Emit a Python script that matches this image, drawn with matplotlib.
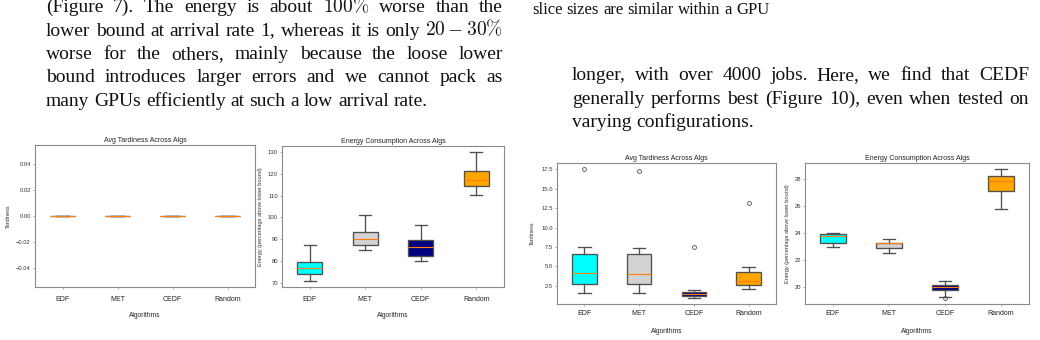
import matplotlib
matplotlib.use('Agg')
import matplotlib.pyplot as plt

# ---------------- data ----------------
algs = ['EDF', 'MET', 'CEDF', 'Random']
box_colors = ['cyan', 'lightgray', 'navy', 'orange']

# Figure 7 (left pair) - tardiness is zero for every algorithm
t7_whislo = [0.0, 0.0, 0.0, 0.0]
t7_q1 = [0.0, 0.0, 0.0, 0.0]
t7_med = [0.0, 0.0, 0.0, 0.0]
t7_q3 = [0.0, 0.0, 0.0, 0.0]
t7_whishi = [0.0, 0.0, 0.0, 0.0]
t7_fliers = [[], [], [], []]

e7_whislo = [71.0, 84.9, 80.0, 110.2]
e7_q1 = [74.2, 87.5, 82.5, 114.5]
e7_med = [76.9, 90.3, 86.2, 117.2]
e7_q3 = [79.7, 93.5, 89.8, 121.1]
e7_whishi = [87.1, 101.1, 96.5, 129.8]
e7_fliers = [[], [], [], []]

# Figure 10 (right pair)
t10_whislo = [1.55, 1.55, 0.99, 2.11]
t10_q1 = [2.76, 2.72, 1.20, 2.67]
t10_med = [4.10, 3.97, 1.46, 3.15]
t10_q3 = [6.65, 6.56, 1.76, 4.32]
t10_whishi = [7.56, 7.34, 1.98, 4.92]
t10_fliers = [[17.5], [17.3], [7.56], [13.2]]

e10_whislo = [22.96, 22.53, 19.30, 25.81]
e10_q1 = [23.28, 22.88, 19.80, 27.08]
e10_med = [23.78, 23.28, 19.98, 27.85]
e10_q3 = [23.93, 23.30, 20.17, 28.25]
e10_whishi = [24.02, 23.58, 20.47, 28.70]
e10_fliers = [[], [], [19.23], []]

left_lines = [
    "(Figure 7). The energy is about $100\\%$ worse than the",
    "lower bound at arrival rate 1, whereas it is only $20-30\\%$",
    "worse for the others, mainly because the loose lower",
    "bound introduces larger errors and we cannot pack as",
    "many GPUs efficiently at such a low arrival rate.",
]
caption_line = "slice sizes are similar within a GPU"
right_lines = [
    "longer, with over 4000 jobs. Here, we find that CEDF",
    "generally performs best (Figure 10), even when tested on",
    "varying configurations.",
]

title_tard = 'Avg Tardiness Across Algs'
title_energy = 'Energy Consumption Across Algs'
ylab_tard = 'Tardiness'
ylab_energy = 'Energy (percentage above lower bound)'
xlab = 'Algorithms'

# ---------------- layout ----------------
W, H = 1040, 340
plt.rcParams['mathtext.fontset'] = 'cm'
fig = plt.figure(figsize=(W / 100, H / 100), dpi=100)
fig.patch.set_facecolor('white')
renderer = fig.canvas.get_renderer()


def fx(x):
    return x / W


def fy(y):
    return 1 - y / H


SERIF = 'Liberation Serif'
SANS = 'Liberation Sans'


def put_line(text, x0, x1, base, size, justify=True):
    words = text.split()
    objs = [fig.text(0, fy(base), w, fontsize=size, family=SERIF,
                     va='baseline', ha='left', color='#111111') for w in words]
    widths = [t.get_window_extent(renderer).width for t in objs]
    if justify and len(words) > 1:
        gap = (x1 - x0 - sum(widths)) / (len(words) - 1)
    else:
        gap = 0.25 * size * 100 / 72
    x = x0
    for t, w in zip(objs, widths):
        t.set_x(fx(x))
        x += w + gap


BODY = 14
left_bases = [12, 35.5, 59, 82.5, 106]
for i, (ln, b) in enumerate(zip(left_lines, left_bases)):
    put_line(ln, 46, 503, b, BODY, justify=(i < len(left_lines) - 1))

put_line(caption_line, 532, 1000, 14.5, 12, justify=False)
right_bases = [80, 103.5, 127]
for i, (ln, b) in enumerate(zip(right_lines, right_bases)):
    put_line(ln, 572, 1029, b, BODY, justify=(i < len(right_lines) - 1))


def make_ax(l, r, t, b):
    return fig.add_axes([fx(l), fy(b), (r - l) / W, (b - t) / H])


EDGE = '#505050'


def draw(ax, lo, q1, med, q3, hi, fl, title, ylabel, ylab_off, xpad, xlabpad):
    stats = [dict(label=a, whislo=v0, q1=v1, med=v2, q3=v3, whishi=v4, fliers=f)
             for a, v0, v1, v2, v3, v4, f in zip(algs, lo, q1, med, q3, hi, fl)]
    bp = ax.bxp(stats, positions=[1, 2, 3, 4], widths=0.45, patch_artist=True,
                boxprops=dict(edgecolor=EDGE, linewidth=0.95),
                whiskerprops=dict(color=EDGE, linewidth=0.95),
                capprops=dict(color=EDGE, linewidth=0.95),
                medianprops=dict(color='#ff7f0e', linewidth=0.8),
                flierprops=dict(marker='o', markerfacecolor='none',
                                markeredgecolor=EDGE, markersize=2.8,
                                markeredgewidth=0.6))
    for p, c in zip(bp['boxes'], box_colors):
        p.set_facecolor(c)
    ax.set_title(title, fontsize=5.0, family=SANS, color='#222222', pad=2.5)
    ax.set_xlabel(xlab, fontsize=4.8, family=SANS, color='#222222', labelpad=xlabpad)
    ax.set_ylabel(ylabel, fontsize=4.0, family=SANS, color='#333333')
    ax.yaxis.set_label_coords(ylab_off, 0.5)
    for s in ax.spines.values():
        s.set_color('#8a8a8a')
        s.set_linewidth(0.8)
    ax.tick_params(axis='y', labelsize=4.2, length=1.5, width=0.5, pad=1.5,
                   colors='#8a8a8a', labelcolor='#333333')
    ax.tick_params(axis='x', labelsize=5.0, length=1.5, width=0.5, pad=xpad,
                   colors='#8a8a8a', labelcolor='#222222')
    for lab in ax.get_xticklabels() + ax.get_yticklabels():
        lab.set_family(SANS)


ax1 = make_ax(35, 255, 145, 287)
draw(ax1, t7_whislo, t7_q1, t7_med, t7_q3, t7_whishi, t7_fliers,
     title_tard, ylab_tard, -24 / 220, 4.8, 7.0)
ax2 = make_ax(282, 504, 146, 287)
draw(ax2, e7_whislo, e7_q1, e7_med, e7_q3, e7_whishi, e7_fliers,
     title_energy, ylab_energy, -19 / 222, 4.8, 7.0)
ax3 = make_ax(557, 776, 163, 304)
draw(ax3, t10_whislo, t10_q1, t10_med, t10_q3, t10_whishi, t10_fliers,
     title_tard, ylab_tard, -22 / 219, 2.6, 8.3)
ax4 = make_ax(805, 1029, 163, 304)
draw(ax4, e10_whislo, e10_q1, e10_med, e10_q3, e10_whishi, e10_fliers,
     title_energy, ylab_energy, -15 / 224, 2.6, 8.3)

fig.savefig('out.png', dpi=100, facecolor='white')
